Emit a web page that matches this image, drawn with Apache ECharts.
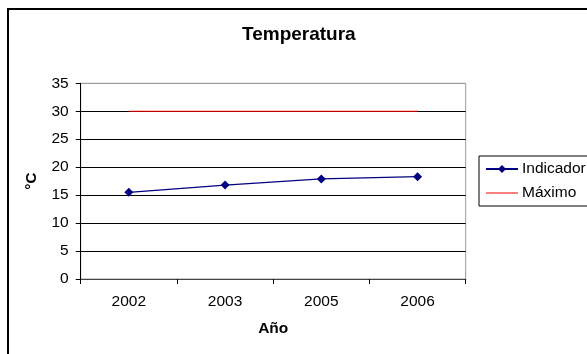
<!DOCTYPE html>
<html>
<head>
<meta charset="utf-8">
<script src="https://cdn.jsdelivr.net/npm/echarts@6/dist/echarts.min.js"></script>
<style>
html,body{margin:0;padding:0;background:#fff;}
#main{width:587px;height:354px;}
</style>
</head>
<body>
<div id="main"></div>
<script>
var categories = ['2002', '2003', '2005', '2006'];
var indicador = [15.5, 16.8, 17.9, 18.3];
var maximo = [30, 30, 30, 30];
var yTicks = [0, 5, 10, 15, 20, 25, 30, 35];

var FONT = 'Liberation Sans';
var chart = echarts.init(document.getElementById('main'), null, {renderer: 'canvas'});
chart.setOption({
  backgroundColor: '#fff',
  animation: false,
  title: {
    text: 'Temperatura',
    left: 242, top: 25, padding: 0,
    textStyle: {fontFamily: FONT, fontSize: 19, fontWeight: 'bold', color: '#000'}
  },
  graphic: [{
    type: 'rect', silent: true,
    shape: {x: 8, y: 9, width: 700, height: 500},
    style: {fill: 'none', stroke: '#000', lineWidth: 2}
  }],
  legend: {
    orient: 'vertical',
    left: 479, top: 156,
    padding: [5, 8, 5, 6],
    itemGap: 8,
    itemWidth: 32, itemHeight: 10,
    borderColor: '#000', borderWidth: 1,
    textStyle: {fontFamily: FONT, fontSize: 15.5, color: '#000', padding: [0, 0, 0, -1]},
    data: [
      {name: 'Indicador'},
      {name: 'Máximo', itemStyle: {opacity: 0}, lineStyle: {opacity: 1, color: '#ff0000', width: 1}}
    ]
  },
  grid: {
    left: 80.7, right: 121.3, top: 83.3, bottom: 75,
    show: true, borderColor: '#999', borderWidth: 1, backgroundColor: 'transparent'
  },
  xAxis: {
    type: 'category',
    data: categories,
    boundaryGap: true,
    name: 'Año',
    nameLocation: 'middle',
    nameGap: 42,
    nameTextStyle: {fontFamily: FONT, fontSize: 15.5, fontWeight: 'bold', color: '#000'},
    axisLine: {show: true, lineStyle: {color: '#444', width: 1}},
    axisTick: {show: true, inside: false, length: 5, lineStyle: {color: '#000'}},
    axisLabel: {margin: 15, fontFamily: FONT, fontSize: 15.5, color: '#000'},
    splitLine: {show: false}
  },
  yAxis: {
    type: 'value',
    min: yTicks[0], max: yTicks[yTicks.length - 1], interval: 5,
    name: '°C',
    nameLocation: 'middle',
    nameGap: 41,
    nameRotate: 90,
    nameTextStyle: {fontFamily: FONT, fontSize: 15.5, fontWeight: 'bold', color: '#000'},
    axisLine: {show: true, lineStyle: {color: '#000', width: 1}},
    axisTick: {show: true, inside: false, length: 5, lineStyle: {color: '#000'}},
    axisLabel: {margin: 12, fontFamily: FONT, fontSize: 15.5, color: '#000'},
    splitLine: {show: true, lineStyle: {color: ['#444', '#000', '#000', '#000', '#000', '#000', '#000', '#999'], width: 1}}
  },
  series: [{
    name: 'Indicador',
    type: 'line',
    data: indicador,
    symbol: 'diamond',
    symbolSize: 9,
    itemStyle: {color: '#000080'},
    lineStyle: {color: '#000080', width: 1.3},
    z: 3
  }, {
    name: 'Máximo',
    type: 'line',
    data: maximo,
    symbol: 'none',
    showSymbol: false,
    itemStyle: {color: '#ff0000'},
    lineStyle: {color: '#ff0000', width: 1},
    z: 2
  }]
});
</script>
</body>
</html>
